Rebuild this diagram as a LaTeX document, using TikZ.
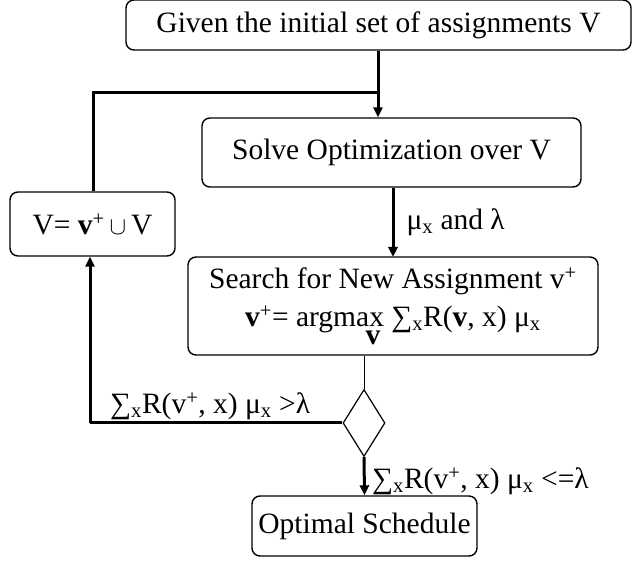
\documentclass[tikz,border=0pt]{standalone}
\usepackage{fontspec}
\setmainfont{Liberation Serif}
\usetikzlibrary{shapes.geometric,arrows.meta}
\begin{document}
\begin{tikzpicture}[x=1pt,y=-1pt,
  box/.style={draw,line width=1.4pt,rounded corners=8pt,inner sep=0pt,align=center,font=\fontsize{29.5}{34}\selectfont},
  conn/.style={line width=3pt},
  arr/.style={conn,-{Triangle[length=10pt,width=9pt]}},
  lbl/.style={font=\fontsize{29.5}{34}\selectfont,inner sep=0pt}]
\useasboundingbox (0,0) rectangle (633,561);
\node[box,minimum width=505pt,minimum height=50pt] (top) at (378.5,25) {Given the initial set of assignments V};
\node[box,minimum width=379pt,minimum height=69pt] (solve) at (391.5,152.5) {Solve Optimization over V};
\node[box,minimum width=165pt,minimum height=64pt] (vbox) at (92.5,224) {V= \textbf{v}\textsuperscript{+}\,$\cup$\,V};
\node[box,minimum width=410pt,minimum height=98pt] (search) at (393,306) {Search for New Assignment v\textsuperscript{+}\\[4pt]\textbf{v}\textsuperscript{+}= argmax\llap{\raisebox{-0.6em}{\textbf{v}}\hspace{0.12em}} ∑\textsubscript{x}R(\textbf{v}, x) μ\textsubscript{x}};
\node[draw,diamond,line width=1.2pt,minimum width=42pt,minimum height=67pt,inner sep=0pt,aspect=0.63] (dec) at (364,423) {};
\node[box,minimum width=225pt,minimum height=60pt] (opt) at (364.5,526) {Optimal Schedule};
\coordinate (j) at (378,93);
\coordinate (lc) at (90,423);
\draw[arr] (top.south -| j) -- (j |- solve.north);
\draw[conn] (vbox.north -| 93,0) |- (j);
\draw[arr] (solve.south -| 393,0) -- (393,257) node[lbl,midway,right=12pt] {μ\textsubscript{x} and λ};
\draw[line width=0.8pt] (search.south -| dec) -- (dec.north);
\draw[conn] (dec.west) -- (lc);
\draw[arr] (lc) -- (lc |- vbox.south);
\node[lbl,anchor=base west] (l1) at (110,414) {∑\textsubscript{x}R(v\textsuperscript{+}, x) μ\textsubscript{x} >λ};
\draw[arr] (dec.south) -- (opt.north);
\node[lbl,anchor=base west] (l2) at (372,489) {∑\textsubscript{x}R(v\textsuperscript{+}, x) μ\textsubscript{x} <=λ};
\end{tikzpicture}
\end{document}
